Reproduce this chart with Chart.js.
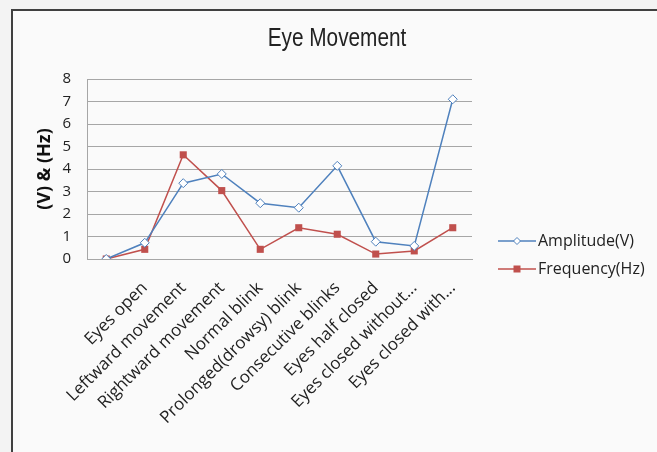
<!DOCTYPE html>
<html>
<head>
<meta charset="utf-8">
<script src="https://cdn.jsdelivr.net/npm/chart.js@4/dist/chart.umd.min.js"></script>
<style>
  html, body { margin: 0; padding: 0; background: #f3f3f3; }
  #wrap { width: 657px; height: 452px; position: relative; }
</style>
</head>
<body>
<div id="wrap"><canvas id="myChart"></canvas></div>
<script>
const chartTitle = 'Eye Movement';
const yTitle = '(V) & (Hz)';
const categories = ['', 'Eyes open', 'Leftward movement', 'Rightward movement', 'Normal blink',
    'Prolonged(drowsy) blink', 'Consecutive blinks', 'Eyes half closed',
    'Eyes closed without...', 'Eyes closed with...'];
const amplitude = [0, 0.72, 3.37, 3.78, 2.48, 2.28, 4.14, 0.77, 0.58, 7.1];
const frequency = [0, 0.43, 4.63, 3.04, 0.43, 1.39, 1.1, 0.22, 0.36, 1.39];
const yTicks = [0, 1, 2, 3, 4, 5, 6, 7, 8];

const blue = '#4f81bd';
const red = '#c0504d';

// frame, title and the legend on the right
const decor = {
    id: 'decor',
    beforeDraw(chart) {
        const c = chart.ctx;
        c.save();
        c.fillStyle = '#f3f3f3';
        c.fillRect(0, 0, chart.width, chart.height);
        c.fillStyle = '#fafafa';
        c.fillRect(12, 10, chart.width - 12, chart.height - 10);
        c.strokeStyle = '#404040';
        c.lineWidth = 2;
        c.beginPath();
        c.moveTo(12, chart.height);
        c.lineTo(12, 10);
        c.lineTo(chart.width, 10);
        c.stroke();
        c.restore();
    },
    afterDraw(chart) {
        const c = chart.ctx;
        c.save();
        // narrow title, like the original's condensed face
        c.translate(337, 39);
        c.scale(0.8, 1);
        c.fillStyle = '#222';
        c.font = '26px "Liberation Sans", sans-serif';
        c.textAlign = 'center';
        c.textBaseline = 'middle';
        c.fillText(chartTitle, 0, 0);
        c.restore();

        c.save();
        c.textBaseline = 'middle';
        const rows = [241, 269];
        chart.data.datasets.forEach((ds, i) => {
            const y = rows[i];
            c.strokeStyle = ds.borderColor;
            c.lineWidth = 1.5;
            c.beginPath();
            c.moveTo(498, y);
            c.lineTo(536, y);
            c.stroke();
            if (ds.pointStyle === 'rectRot') {
                c.fillStyle = '#fff';
                c.beginPath();
                c.moveTo(517, y - 3.5);
                c.lineTo(520.5, y);
                c.lineTo(517, y + 3.5);
                c.lineTo(513.5, y);
                c.closePath();
                c.fill();
                c.lineWidth = 1;
                c.stroke();
            } else {
                c.fillStyle = ds.borderColor;
                c.fillRect(513.5, y - 3.5, 7, 7);
            }
            c.fillStyle = '#222';
            c.font = '16px "Open Sans", sans-serif';
            c.textAlign = 'left';
            c.fillText(ds.label, 538, y);
        });
        c.restore();
    }
};

const ctx = document.getElementById('myChart');

new Chart(ctx, {
    type: 'line',
    data: {
        labels: categories,
        datasets: [
            {
                label: 'Amplitude(V)',
                data: amplitude,
                borderColor: blue,
                backgroundColor: '#ffffff',
                borderWidth: 1.5,
                pointStyle: 'rectRot',
                pointRadius: 4.5,
                pointBorderWidth: 1,
                tension: 0,
            },
            {
                label: 'Frequency(Hz)',
                data: frequency,
                borderColor: red,
                backgroundColor: red,
                borderWidth: 1.5,
                pointStyle: 'rect',
                pointRadius: 5,
                pointBorderWidth: 0,
                tension: 0,
            }
        ],
    },
    options: {
        responsive: true,
        maintainAspectRatio: false,
        animation: false,
        layout: {
            padding: { top: 79, right: 185, bottom: 0, left: 0 }
        },
        plugins: {
            legend: { display: false },
            title: { display: false },
            tooltip: { enabled: false }
        },
        scales: {
            x: {
                offset: true,
                grid: { display: false, drawTicks: false },
                border: { display: true, color: '#a6a6a6' },
                ticks: {
                    autoSkip: false,
                    minRotation: 45,
                    maxRotation: 45,
                    padding: 19,
                    color: '#222',
                    font: { family: 'Open Sans', size: 17 }
                },
                afterFit(s) { s.height = 452 - 259; }
            },
            y: {
                min: 0,
                max: 8,
                afterBuildTicks(s) { s.ticks = yTicks.map(v => ({ value: v })); },
                grid: { color: '#a6a6a6', drawTicks: false },
                border: { color: '#a6a6a6' },
                ticks: {
                    padding: 16,
                    color: '#222',
                    font: { family: 'Open Sans', size: 15 }
                },
                title: {
                    display: true,
                    text: yTitle,
                    color: '#111',
                    font: { family: 'Open Sans', size: 18, weight: 'bold' },
                    padding: { top: 34, bottom: 0 }
                },
                afterFit(s) { s.width = 87; }
            }
        }
    },
    plugins: [decor]
});
</script>
</body>
</html>
